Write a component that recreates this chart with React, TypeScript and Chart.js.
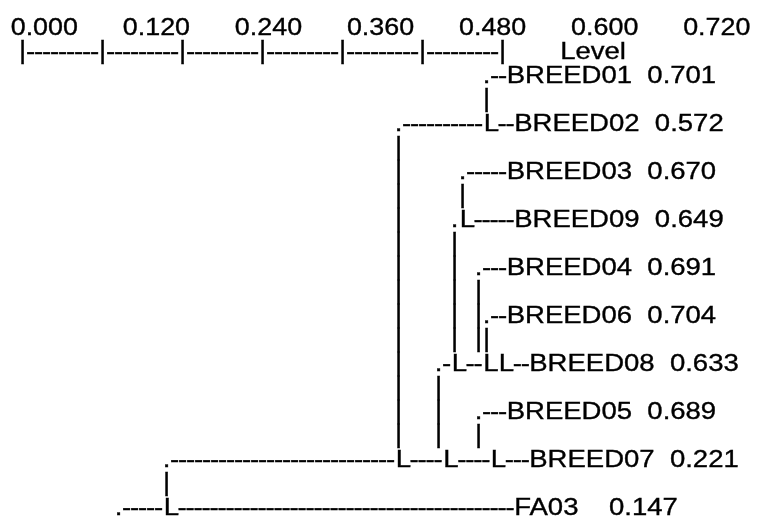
import React, { useEffect, useRef } from "react";
import { Chart, registerables } from "chart.js";

Chart.register(...registerables);

// ---------- data ----------
const leafNames = ["BREED01", "BREED02", "BREED03", "BREED09", "BREED04", "BREED06", "BREED08", "BREED05", "BREED07", "FA03"];
const leafLevels = [0.701, 0.572, 0.670, 0.649, 0.691, 0.704, 0.633, 0.689, 0.221, 0.147];
const tickValues = [0, 0.12, 0.24, 0.36, 0.48, 0.6, 0.72];
const tickLabels = ["0.000", "0.120", "0.240", "0.360", "0.480", "0.600", "0.720"];
const axisTitle = "Level";

// one text column of the character dendrogram = this many level units
const LEVEL_STEP = 0.012;

// ---------- look ----------
const FONT = "24px 'Liberation Sans', Arial, Helvetica, sans-serif";
const HEADER_SX = 1.12;
const LABEL_SX = 1.146;
const ART_SX = 1.15;
const BAR_SY = 1.08;
const L_CELLS = 1.94; // the "L" glyph is wider than one text column
const STROKE = 0.35;
const W = 757;
const H = 518;
const X_MIN = -0.02805;
const X_MAX = X_MIN + (W / 8) * LEVEL_STEP;
const Y_MIN = -34.5 / 24;
const Y_MAX = Y_MIN + H / 24;

type Row = { art: string; label?: string };

function colOf(v: number) {
  return Math.floor(v / LEVEL_STEP + 1e-9);
}

function buildRows(): Row[] {
  const n = leafLevels.length;
  const lastCol = Math.round(tickValues[tickValues.length - 1] / LEVEL_STEP);
  const endRow = leafLevels.map((v, j) => {
    for (let k = j + 1; k < n; k++) if (leafLevels[k] < v) return k;
    return -1;
  });
  const rows: Row[] = [];
  // axis tick row
  const tickCols = new Set(tickValues.map((v) => Math.round(v / LEVEL_STEP)));
  let tr = "";
  for (let c = 0; c <= lastCol; c++) tr += tickCols.has(c) ? "|" : "-";
  rows.push({ art: tr, label: "       " + axisTitle });

  for (let i = 0; i < n; i++) {
    const ci = colOf(leafLevels[i]);
    const passing = new Set<number>();
    const ending = new Set<number>();
    for (let j = 0; j < i; j++) {
      if (endRow[j] > i) passing.add(colOf(leafLevels[j]));
      else if (endRow[j] === i) ending.add(colOf(leafLevels[j]));
    }
    let s = "";
    for (let c = 0; c <= lastCol; c++) {
      if (c < ci) s += passing.has(c) ? "|" : " ";
      else if (c === ci) s += ".";
      else s += ending.has(c) ? "L" : "-";
    }
    rows.push({ art: s, label: leafNames[i].padEnd(6) + "  " + leafLevels[i].toFixed(3) });
    if (i < n - 1) {
      const act = new Set<number>();
      for (let j = 0; j <= i; j++) if (endRow[j] > i) act.add(colOf(leafLevels[j]));
      const maxc = Math.max(...Array.from(act));
      let t = "";
      for (let c = 0; c <= maxc; c++) t += act.has(c) ? "|" : " ";
      rows.push({ art: t });
    }
  }
  return rows;
}

function drawScaled(
  ctx: CanvasRenderingContext2D,
  text: string,
  x: number,
  y: number,
  sx: number,
  align: CanvasTextAlign = "left",
  sy = 1,
  pivot = 0
) {
  ctx.save();
  ctx.translate(x, y - pivot);
  ctx.scale(sx, sy);
  ctx.textAlign = align;
  ctx.fillText(text, 0, pivot);
  ctx.strokeText(text, 0, pivot);
  ctx.restore();
}

const asciiPlugin = {
  id: "asciiDendrogram",
  afterDraw(chart: any) {
    const { ctx, scales } = chart;
    const x = scales.x;
    const y = scales.y;
    const rows = buildRows();
    const x0 = x.getPixelForValue(0);
    const cell = x.getPixelForValue(LEVEL_STEP) - x0;
    ctx.save();
    ctx.fillStyle = "#000000";
    ctx.strokeStyle = "#000000";
    ctx.lineWidth = STROKE;
    ctx.font = FONT;
    ctx.textBaseline = "alphabetic";
    // header tick labels
    drawScaled(ctx, tickLabels.join("      "), x.getPixelForValue(-LEVEL_STEP), y.getPixelForValue(0), HEADER_SX);
    rows.forEach((row, idx) => {
      const by = y.getPixelForValue(idx + 1);
      let cx = x0;
      for (const ch of row.art) {
        if (ch === "L") {
          drawScaled(ctx, "L", cx + 1, by, ART_SX);
          cx += cell * L_CELLS;
        } else {
          if (ch === "|") drawScaled(ctx, ch, cx + cell / 2, by, ART_SX, "center", BAR_SY, 6.25);
          else if (ch !== " ") drawScaled(ctx, ch, cx + cell / 2, by, ART_SX, "center");
          cx += cell;
        }
      }
      if (row.label) drawScaled(ctx, row.label, cx, by, LABEL_SX);
    });
    ctx.restore();
  },
};

export default function App() {
  const ref = useRef<HTMLCanvasElement | null>(null);
  useEffect(() => {
    if (!ref.current) return;
    const chart = new Chart(ref.current, {
      type: "scatter",
      data: {
        datasets: [
          {
            label: "Level",
            data: leafLevels.map((v, i) => ({ x: v, y: 2 + i * 2 })),
            pointRadius: 0,
            showLine: false,
          },
        ],
      },
      options: {
        animation: false,
        responsive: false,
        devicePixelRatio: 1,
        events: [],
        layout: { padding: 0 },
        plugins: { legend: { display: false }, tooltip: { enabled: false }, title: { display: false } },
        scales: {
          x: { type: "linear", display: false, min: X_MIN, max: X_MAX },
          y: { type: "linear", display: false, reverse: true, min: Y_MIN, max: Y_MAX },
        },
      },
      plugins: [asciiPlugin],
    });
    return () => chart.destroy();
  }, []);
  return (
    <canvas
      ref={ref}
      width={W}
      height={H}
      style={{ position: "fixed", left: 0, top: 0, width: W, height: H, background: "#ffffff" }}
    />
  );
}
